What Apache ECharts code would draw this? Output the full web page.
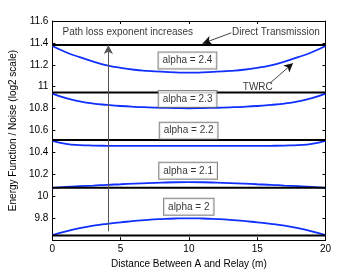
<!DOCTYPE html>
<html>
<head>
<meta charset="utf-8">
<script src="https://cdn.jsdelivr.net/npm/echarts@6/dist/echarts.min.js"></script>
<style>
html,body{margin:0;padding:0;background:#fff;}
#c{width:359px;height:274px;}
</style>
</head>
<body>
<div id="c"></div>
<script>
// ---- data ----
var distances = [0,1,2,3,4,5,6,7,8,9,10,11,12,13,14,15,16,17,18,19,20];
var twrc24 = [11.372,11.315,11.27,11.23,11.196,11.172,11.155,11.145,11.137,11.131,11.128,11.131,11.137,11.145,11.155,11.172,11.196,11.23,11.27,11.315,11.372];
var twrc23 = [10.937,10.895,10.866,10.846,10.834,10.824,10.817,10.812,10.808,10.805,10.803,10.805,10.808,10.812,10.817,10.824,10.834,10.846,10.866,10.895,10.937];
var twrc22 = [10.505,10.478,10.467,10.463,10.461,10.46,10.46,10.46,10.46,10.46,10.46,10.46,10.46,10.46,10.46,10.46,10.461,10.463,10.467,10.478,10.505];
var twrc21 = [10.076,10.085,10.092,10.098,10.105,10.110,10.116,10.121,10.125,10.128,10.129,10.128,10.125,10.121,10.116,10.110,10.105,10.098,10.092,10.085,10.076];
var twrc20 = [9.645,9.68,9.709,9.732,9.749,9.762,9.775,9.785,9.792,9.797,9.799,9.797,9.792,9.785,9.775,9.762,9.749,9.732,9.709,9.68,9.645];
var directValues = [11.38,10.947,10.513,10.077,9.642];
var xRange = [0,20];
var yRange = [9.6,11.6];

var boxLabels = ['alpha = 2.4','alpha = 2.3','alpha = 2.2','alpha = 2.1','alpha = 2'];
var boxX = [9.89,9.9,9.98,9.94,9.99];
var boxY = [11.239,10.887,10.599,10.233,9.904];

var pathText = 'Path loss exponent increases';
var pathTextPos = [0.74,11.5];
var pathArrow = [[4.1,9.68],[4.1,11.38]];
var directText = 'Direct Transmission';
var directTextPos = [13.15,11.494];
var directArrow = [[13.1,11.492],[11.0,11.395]];
var twrcText = 'TWRC';
var twrcTextPos = [15.04,10.998];
var twrcArrow = [[15.95,11.034],[17.62,11.215]];

var xLabel = 'Distance Between A and Relay (m)';
var yLabel = 'Energy Function / Noise (log2 scale)';

// ---- chart ----
var FONT = 'Liberation Sans, Arial, Helvetica, sans-serif';
function zip(xs, ys){ return xs.map(function(x,i){ return [x, ys[i]]; }); }

var series = [];
[twrc24, twrc23, twrc22, twrc21, twrc20].forEach(function(arr){
  series.push({
    type:'line', data: zip(distances, arr), showSymbol:false, smooth:true,
    lineStyle:{color:'#1030ff', width:1.8}, z:3, silent:true
  });
});
directValues.forEach(function(v){
  series.push({
    type:'line', data: zip(xRange, [v, v]), showSymbol:false,
    lineStyle:{color:'#000', width:2}, z:4, silent:true
  });
});
// arrows
function arrowSeries(seg, color, width){
  return {
    type:'line', data:[], silent:true, z:5,
    markLine:{
      silent:true, symbol:['none','arrow'], symbolSize:[7,9],
      label:{show:false},
      lineStyle:{color:color, width:width, type:'solid'},
      emphasis:{disabled:true},
      animation:false,
      data:[[{coord:seg[0]},{coord:seg[1]}]]
    }
  };
}
series.push(arrowSeries(pathArrow, '#555', 1));
series.push(arrowSeries(directArrow, '#111', 0.8));
series.push(arrowSeries(twrcArrow, '#111', 0.8));

// text boxes
series.push({
  type:'scatter', symbolSize:0, z:10, silent:true,
  data: boxLabels.map(function(t,i){ return {name:t, value:[boxX[i], boxY[i]]}; }),
  label:{
    show:true, position:'inside', formatter:'{b}',
    color:'#000', fontSize:10, fontFamily:FONT,
    backgroundColor:'#fff', borderColor:'#666', borderWidth:1,
    padding:[3,4,3,4]
  }
});
// free texts
series.push({
  type:'scatter', symbolSize:0, z:10, silent:true,
  data:[
    {name:pathText, value:pathTextPos},
    {name:directText, value:directTextPos}
  ],
  label:{show:true, position:'right', distance:0, formatter:'{b}', color:'#000', fontSize:10, fontFamily:FONT}
});
series.push({
  type:'scatter', symbolSize:0, z:10, silent:true,
  data:[{name:twrcText, value:twrcTextPos}],
  label:{show:true, position:'inside', formatter:'{b}', color:'#000', fontSize:10, fontFamily:FONT}
});

var axisCommon = {
  axisLine:{show:true, onZero:false, lineStyle:{color:'#000', width:1}},
  axisTick:{show:true, inside:true, length:3, lineStyle:{color:'#000'}},
  splitLine:{show:false}
};

var option = {
  animation:false,
  backgroundColor:'#fff',
  textStyle:{fontFamily:FONT},
  grid:{left:46.5, right:33.5, top:21, bottom:31.3, containLabel:false},
  xAxis:[
    Object.assign({
      type:'value', position:'bottom', min:xRange[0], max:xRange[1], interval:5,
      name:xLabel, nameLocation:'middle', nameGap:14,
      nameTextStyle:{fontSize:10, color:'#000', fontFamily:FONT},
      axisLabel:{fontSize:10, color:'#000', margin:4, fontFamily:FONT}
    }, axisCommon),
    Object.assign({
      type:'value', position:'top', min:xRange[0], max:xRange[1], interval:5,
      axisLabel:{show:false}
    }, axisCommon)
  ],
  yAxis:[
    Object.assign({
      type:'value', position:'left', min:yRange[0], max:yRange[1], interval:0.2,
      name:yLabel, nameLocation:'middle', nameGap:22,
      nameTextStyle:{fontSize:10, color:'#000', fontFamily:FONT},
      axisLabel:{fontSize:10, color:'#000', margin:4, fontFamily:FONT, showMinLabel:false,
        formatter:function(v){ return Math.abs(v-9.6)<1e-6 ? '' : String(Math.round(v*10)/10); }}
    }, axisCommon),
    Object.assign({
      type:'value', position:'right', min:yRange[0], max:yRange[1], interval:0.2,
      axisLabel:{show:false}
    }, axisCommon)
  ],
  series: series
};

var chart = echarts.init(document.getElementById('c'), null, {renderer:'canvas'});
chart.setOption(option);
</script>
</body>
</html>
